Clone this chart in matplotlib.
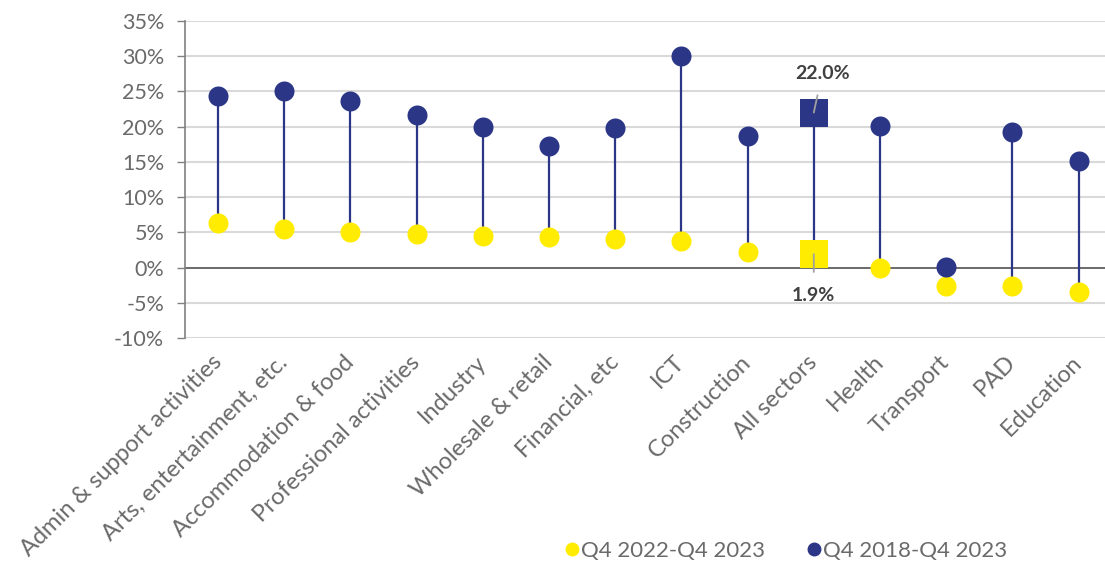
import matplotlib
matplotlib.use("Agg")
import matplotlib.pyplot as plt
from matplotlib.lines import Line2D

plt.rcParams['font.family'] = ['Lato', 'DejaVu Sans']

categories = ["Admin & support activities", "Arts, entertainment, etc.", "Accommodation & food",
              "Professional activities", "Industry", "Wholesale & retail", "Financial, etc", "ICT",
              "Construction", "All sectors", "Health", "Transport", "PAD", "Education"]
q4_2018_2023 = [24.3, 25.1, 23.7, 21.6, 20.0, 17.3, 19.8, 30.1, 18.7, 22.0, 20.1, 0.1, 19.2, 15.1]
q4_2022_2023 = [6.3, 5.5, 5.1, 4.8, 4.5, 4.3, 4.1, 3.7, 2.2, 1.9, -0.1, -2.6, -2.6, -3.4]
yticks = [-10, -5, 0, 5, 10, 15, 20, 25, 30, 35]
highlight = "All sectors"
legend_labels = ["Q4 2022-Q4 2023", "Q4 2018-Q4 2023"]

NAVY = "#2B3686"
YELLOW = "#FFEC00"
TEXT = "#6A6A6A"
GRID = "#D9D9D9"

fig = plt.figure(figsize=(11.05, 5.67), dpi=100)
ax = fig.add_axes([185/1105, (567-338)/567, 920/1105, (338-21)/567])

x = list(range(len(categories)))
hi = categories.index(highlight)

for i in x:
    ax.plot([i, i], [q4_2022_2023[i], q4_2018_2023[i]], color=NAVY, lw=1.6, zorder=2)

xs = [i for i in x if i != hi]
ax.scatter(xs, [q4_2022_2023[i] for i in xs], s=20**2 * 0.52, color=YELLOW, zorder=3, linewidths=0)
ax.scatter(xs, [q4_2018_2023[i] for i in xs], s=20**2 * 0.52, color=NAVY, zorder=4, linewidths=0)
ax.scatter([hi], [q4_2022_2023[hi]], s=19.5**2, marker='s', color=YELLOW, zorder=3, linewidths=0)
ax.scatter([hi], [q4_2018_2023[hi]], s=19.5**2, marker='s', color=NAVY, zorder=4, linewidths=0)

# annotations
ax.annotate(f"{q4_2018_2023[hi]:.1f}%", xy=(hi, q4_2018_2023[hi]), xytext=(hi + 0.13, 27.6),
            ha='center', va='center', fontsize=14, fontweight='bold', color="#404040",
            arrowprops=dict(arrowstyle='-', color="#A0A0A0", lw=1.3, shrinkA=8, shrinkB=0),
            zorder=6)
ax.annotate(f"{q4_2022_2023[hi]:.1f}%", xy=(hi, q4_2022_2023[hi]), xytext=(hi, -4.0),
            ha='center', va='center', fontsize=14, fontweight='bold', color="#404040",
            arrowprops=dict(arrowstyle='-', color="#A0A0A0", lw=1.3, shrinkA=9, shrinkB=0),
            zorder=6)

ax.set_xlim(-0.5, 13.4)
ax.set_ylim(-10, 35)
ax.set_yticks(yticks)
ax.set_yticklabels([f"{v}%" for v in yticks])
ax.grid(axis='y', color=GRID, lw=1.5, zorder=0)
ax.set_axisbelow(True)
ax.axhline(0, color="#595959", lw=1.2, zorder=1)

ax.set_xticks(x)
ax.set_xticklabels(categories, rotation=45, ha='right', va='center', rotation_mode='anchor')
ax.tick_params(axis='x', length=0, pad=15, labelsize=17, labelcolor=TEXT)
ax.tick_params(axis='y', length=6, width=1, color="#808080", pad=9, labelsize=15.5, labelcolor=TEXT)

for s in ['top', 'right', 'bottom']:
    ax.spines[s].set_visible(False)
ax.spines['left'].set_color("#808080")
ax.spines['left'].set_linewidth(1.2)

handles = [Line2D([], [], marker='o', ls='', color=YELLOW, markersize=9),
           Line2D([], [], marker='o', ls='', color=NAVY, markersize=9)]
leg = fig.legend(handles, legend_labels, loc='center', bbox_to_anchor=(785/1105, 1 - 551/567),
                 ncol=2, frameon=False, fontsize=16, handletextpad=0.0, columnspacing=1.8,
                 handlelength=0.8)
for t in leg.get_texts():
    t.set_color(TEXT)

fig.savefig("out.png", dpi=100)
